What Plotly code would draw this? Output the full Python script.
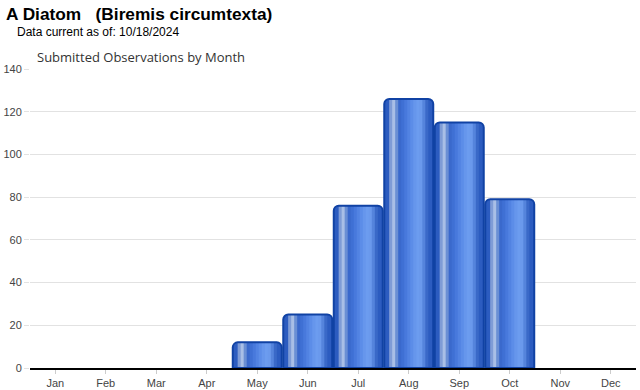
import plotly.graph_objects as go

months = ["Jan", "Feb", "Mar", "Apr", "May", "Jun", "Jul", "Aug", "Sep", "Oct", "Nov", "Dec"]
observations = [0, 0, 0, 0, 12, 25, 76, 126, 115, 79, 0, 0]
y_ticks = [0, 20, 40, 60, 80, 100, 120, 140]

title_text = "A Diatom   (Biremis circumtexta)"
date_text = "Data current as of: 10/18/2024"
subtitle_text = "Submitted Observations by Month"

# styling for the cylinder-like bars
BAR_W = 0.97
EDGE = 0.10
stripe_colors = ["#7f9cd6", "#a9bfe6", "#6a8fd4", "#3a69cc", "#3f70d4", "#4879dc",
                 "#5283e2", "#5c8de8", "#6696ec", "#6c9cef", "#6a99ec", "#5584dc", "#3a69c8"]

outline_widths = [2 if v > 0 else 0 for v in observations]

fig = go.Figure()

fig.add_trace(go.Bar(x=months, y=observations, width=BAR_W,
                     marker=dict(color="#2c5cc0", line=dict(width=0), cornerradius=5),
                     hoverinfo="skip", showlegend=False))

inner = BAR_W * (1 - 2 * EDGE)
sw = inner / len(stripe_colors)
start = -BAR_W / 2 + BAR_W * EDGE
for i, c in enumerate(stripe_colors):
    w = sw * (1.6 if i < len(stripe_colors) - 1 else 1.0)
    fig.add_trace(go.Bar(x=months, y=observations, width=w, offset=start + i * sw,
                         marker=dict(color=c, line=dict(width=0), cornerradius=0),
                         hoverinfo="skip", showlegend=False))

fig.add_trace(go.Bar(x=months, y=observations, width=BAR_W,
                     marker=dict(color="rgba(0,0,0,0)",
                                 line=dict(width=outline_widths, color="#1042a4"),
                                 cornerradius=5),
                     hovertemplate="%{x}: %{y}<extra></extra>", showlegend=False))

L, R, T, B = 30, 4, 69, 22
pw = 640 - L - R
ph = 390 - T - B


def px(x):
    return (x - L) / pw


def py(y_from_top):
    return (390 - y_from_top - B) / ph


fig.update_layout(
    width=640, height=390,
    barmode="overlay",
    plot_bgcolor="white", paper_bgcolor="white",
    margin=dict(l=L, r=R, t=T, b=B, autoexpand=False),
    font=dict(family="Arial, Liberation Sans, sans-serif", size=11, color="#444"),
    xaxis=dict(type="category", showline=True, linecolor="black", linewidth=1.5,
               ticks="outside", ticklen=4, tickcolor="#cccccc", showgrid=False,
               automargin=False,
               tickfont=dict(size=11, color="#444"), range=[-0.5, 11.5]),
    yaxis=dict(range=[0, 140], tickvals=y_ticks, showgrid=True, gridcolor="#e2e2e2",
               gridwidth=1, ticks="outside", ticklen=5, tickcolor="#e2e2e2",
               automargin=False,
               zeroline=False, showline=False, tickfont=dict(size=11, color="#444")),
    annotations=[
        dict(text="<b>" + title_text + "</b>", x=px(4), y=py(14), xref="paper", yref="paper",
             showarrow=False, xanchor="left", yanchor="middle",
             font=dict(size=17.3, color="black", family="Arial, Liberation Sans, sans-serif")),
        dict(text=date_text, x=px(15), y=py(32), xref="paper", yref="paper",
             showarrow=False, xanchor="left", yanchor="middle",
             font=dict(size=12, color="black", family="Arial, Liberation Sans, sans-serif")),
        dict(text=subtitle_text, x=px(35), y=py(57), xref="paper", yref="paper",
             showarrow=False, xanchor="left", yanchor="middle",
             font=dict(size=13, color="#333", family="Open Sans, sans-serif")),
    ],
)

fig.write_html("out.html",
               config={"displayModeBar": False},
               post_script="document.body.style.margin='0';document.body.style.overflow='hidden';")
